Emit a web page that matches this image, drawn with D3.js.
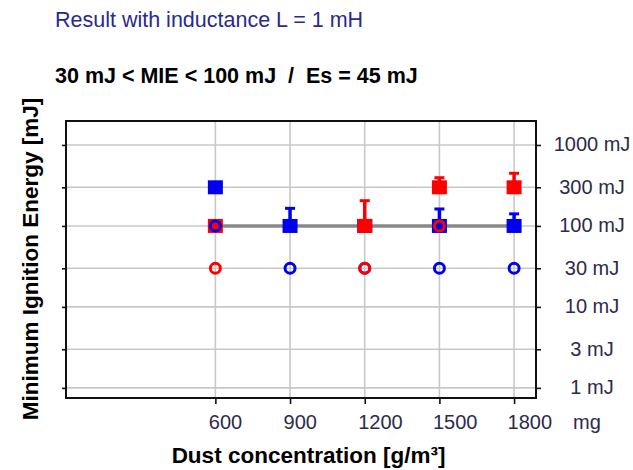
<!DOCTYPE html>
<html><head><meta charset="utf-8">
<script src="https://cdn.jsdelivr.net/npm/d3@7"></script>
<style>body{margin:0;background:#fff}svg{display:block;font-family:"Liberation Sans",Arial,sans-serif}</style>
</head><body>
<svg id="c" width="633" height="470"></svg>
<script>
const title1 = "Result with inductance L = 1 mH";
const title2 = "30 mJ < MIE < 100 mJ  /  Es = 45 mJ";
const yLabel = "Minimum Ignition Energy [mJ]";
const xLabel = "Dust concentration [g/m³]";
const xTicks = [600, 900, 1200, 1500, 1800];
const xUnit = "mg";
const yTicks = [1, 3, 10, 30, 100, 300, 1000];
const yTickLabels = ["1 mJ", "3 mJ", "10 mJ", "30 mJ", "100 mJ", "300 mJ", "1000 mJ"];
const esLine = {x0: 600, x1: 1800, y: 100};
// filled squares (ignition results), optional upper error bar
const blueSquares = [
  {x: 600, y: 300, err: null},
  {x: 900, y: 100, err: 165},
  {x: 1200, y: 100, err: null},
  {x: 1500, y: 100, err: 162},
  {x: 1800, y: 100, err: 141}
];
const redSquares = [
  {x: 600, y: 100, err: null},
  {x: 1200, y: 100, err: 205},
  {x: 1500, y: 300, err: 394},
  {x: 1800, y: 300, err: 447}
];
// open circles (no ignition)
const redCircles = [
  {x: 600, y: 30}, {x: 1200, y: 30}, {x: 1500, y: 100}
];
const blueCircles = [
  {x: 600, y: 100}, {x: 900, y: 30}, {x: 1200, y: 30}, {x: 1500, y: 30}, {x: 1800, y: 30}
];

const svg = d3.select("#c");
const L = 66, R = 536, T = 121, B = 398;
const x = d3.scaleLinear().domain([0, 1888]).range([L, R]);
const y = d3.scaleLog().domain([0.75, 1977]).range([B, T]);
const RED = "#ff0000", BLUE = "#0000ee", TXT = "#2d2a4a";
const FONT = '"Liberation Sans",Arial,sans-serif';

// grid
svg.append("g").selectAll("line").data(yTicks).join("line")
  .attr("x1", L).attr("x2", R).attr("y1", d => y(d)).attr("y2", d => y(d))
  .attr("stroke", "#c8c8c8").attr("stroke-width", 1.6);
svg.append("g").selectAll("line").data(xTicks).join("line")
  .attr("y1", T).attr("y2", B).attr("x1", d => x(d)).attr("x2", d => x(d))
  .attr("stroke", "#c8c8c8").attr("stroke-width", 1.6);

// axes
const axR = d3.axisRight(y).tickValues(yTicks).tickSize(5).tickPadding(51)
  .tickFormat((d, i) => yTickLabels[i]);
const gR = svg.append("g").attr("transform", `translate(${R},0)`).call(axR);
const axL = d3.axisLeft(y).tickValues(yTicks).tickSize(4).tickFormat("");
const gL = svg.append("g").attr("transform", `translate(${L},0)`).call(axL);
const axB = d3.axisBottom(x).tickValues(xTicks).tickSize(6).tickFormat(d3.format("d"));
const gB = svg.append("g").attr("transform", `translate(0,${B})`).call(axB);
[gR, gL, gB].forEach(g => {
  g.select(".domain").remove();
  g.selectAll(".tick line").attr("stroke", "#111").attr("stroke-width", 1.6);
  g.selectAll(".tick text").attr("fill", TXT).attr("font-size", 20).attr("font-family", FONT);
});
gR.selectAll(".tick text").attr("text-anchor", "middle").attr("dy", "0.3em");
gB.selectAll(".tick text").attr("text-anchor", "start").attr("x", -7).attr("y", 0).attr("dy", 31);
svg.append("text").attr("x", x(1800) + 59).attr("y", B + 31).attr("fill", TXT)
  .attr("font-size", 20).text(xUnit);

// frame
svg.append("rect").attr("x", L).attr("y", T).attr("width", R - L).attr("height", B - T)
  .attr("fill", "none").attr("stroke", "#111").attr("stroke-width", 2);

// Es line
svg.append("line").attr("x1", x(esLine.x0)).attr("x2", x(esLine.x1))
  .attr("y1", y(esLine.y)).attr("y2", y(esLine.y))
  .attr("stroke", "#888").attr("stroke-width", 3.5);

function drawSquares(data, color) {
  const g = svg.append("g");
  const eb = data.filter(d => d.err);
  g.selectAll("line.eb").data(eb).join("line").attr("class", "eb")
    .attr("x1", d => x(d.x)).attr("x2", d => x(d.x))
    .attr("y1", d => y(d.y)).attr("y2", d => y(d.err))
    .attr("stroke", color).attr("stroke-width", 3.5);
  g.selectAll("line.cap").data(eb).join("line").attr("class", "cap")
    .attr("x1", d => x(d.x) - 5).attr("x2", d => x(d.x) + 5)
    .attr("y1", d => y(d.err)).attr("y2", d => y(d.err))
    .attr("stroke", color).attr("stroke-width", 3);
  g.selectAll("rect").data(data).join("rect")
    .attr("x", d => x(d.x) - 7.5).attr("y", d => y(d.y) - 7)
    .attr("width", 15).attr("height", 14).attr("fill", color);
}
function drawCircles(data, color) {
  svg.append("g").selectAll("circle").data(data).join("circle")
    .attr("cx", d => x(d.x)).attr("cy", d => y(d.y)).attr("r", 5)
    .attr("fill", "none").attr("stroke", color).attr("stroke-width", 3);
}
drawSquares(blueSquares, BLUE);
drawSquares(redSquares, RED);
drawCircles(blueCircles, BLUE);
drawCircles(redCircles, RED);

// titles
svg.append("text").attr("x", 55).attr("y", 27).attr("fill", "#2a2a8c")
  .attr("font-size", 21.5).text(title1);
svg.append("text").attr("x", 55).attr("y", 83).attr("fill", "#000")
  .attr("font-size", 21.5).attr("font-weight", "bold")
  .style("white-space", "pre").text(title2);
svg.append("text").attr("transform", `translate(38,259) rotate(-90)`)
  .attr("text-anchor", "middle").attr("font-size", 22.5).attr("font-weight", "bold")
  .attr("fill", "#000").text(yLabel);
svg.append("text").attr("x", 308.5).attr("y", 463).attr("text-anchor", "middle")
  .attr("font-size", 22.5).attr("font-weight", "bold").attr("fill", "#000").text(xLabel);
</script>
</body></html>
